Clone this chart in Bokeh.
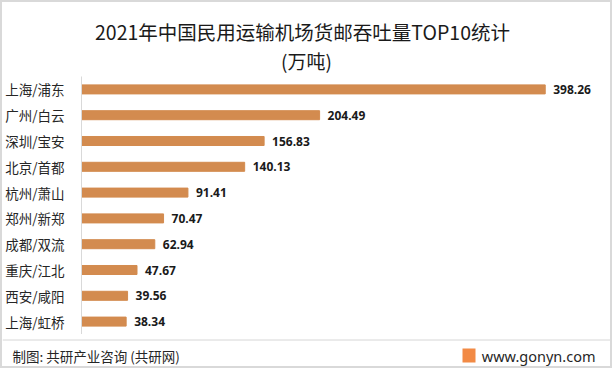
from bokeh.plotting import figure
from bokeh.layouts import column, row
from bokeh.models import (ColumnDataSource, LabelSet, Label, BoxAnnotation, Span,
                          Range1d, FactorRange)
from bokeh.core.properties import value
from bokeh.embed import file_html
from bokeh.resources import INLINE

categories = ["上海/浦东", "广州/白云", "深圳/宝安", "北京/首都", "杭州/萧山",
              "郑州/新郑", "成都/双流", "重庆/江北", "西安/咸阳", "上海/虹桥"]
values = [398.26, 204.49, 156.83, 140.13, 91.41, 70.47, 62.94, 47.67, 39.56, 38.34]
value_labels = ["398.26", "204.49", "156.83", "140.13", "91.41",
                "70.47", "62.94", "47.67", "39.56", "38.34"]

title_text = "2021年中国民用运输机场货邮吞吐量TOP10统计"
unit_text = "(万吨)"
source_text = "制图: 共研产业咨询 (共研网)"
site_text = "www.gonyn.com"

CJK = "Noto Sans CJK SC"
BAR = "#D38B4F"
W = 608
HH, MH, FH = 74, 258, 32


def blank(height):
    f = figure(width=W, height=height, output_backend="svg", toolbar_location=None,
               x_axis_location=None, y_axis_location=None,
               x_range=Range1d(0, W), y_range=Range1d(0, height),
               min_border=0, min_border_left=0, min_border_right=0,
               min_border_top=0, min_border_bottom=0)
    f.outline_line_color = None
    f.xgrid.visible = False
    f.ygrid.visible = False
    return f


def label(fig, x, y, text, size, align="center", color="#1a1a1a", font=CJK):
    fig.add_layout(Label(x=x, y=y, x_units="screen", y_units="screen", text=text,
                         text_align=align, text_baseline="middle", text_font=font,
                         text_font_size=size, text_color=color))


def box(fig, l, r, t, b, **kw):
    fig.add_layout(BoxAnnotation(left=l, right=r, top=t, bottom=b,
                                 left_units="screen", right_units="screen",
                                 top_units="screen", bottom_units="screen", **kw))


# header
head = blank(HH)
label(head, 300, 45, title_text, "19.5px")
label(head, 304, 16, unit_text, "19px")

# main chart
src = ColumnDataSource(dict(cat=categories, val=values, lab=value_labels))
p = figure(width=W, height=MH, output_backend="svg", toolbar_location=None,
           y_range=FactorRange(*categories[::-1]), x_range=Range1d(0, 452.6),
           x_axis_location=None,
           min_border_left=78, min_border_right=2, min_border_top=0, min_border_bottom=0)
p.outline_line_color = None
p.xgrid.visible = False
p.ygrid.visible = False
p.yaxis.axis_line_color = "#d9d9d9"
p.yaxis.major_tick_line_color = None
p.yaxis.minor_tick_line_color = None
p.yaxis.major_label_text_font = CJK
p.yaxis.major_label_text_font_size = "13.5px"
p.yaxis.major_label_text_color = "#262626"
p.yaxis.major_label_standoff = 11

p.hbar(y="cat", right="val", left=0, height=0.35, color=BAR, source=src)
p.add_layout(LabelSet(x="val", y="cat", text="lab", source=src, x_offset=8,
                      text_baseline="middle", text_font=value("Open Sans"),
                      text_font_style="bold", text_font_size="12px", text_color="#1a1a1a"))

# footer
foot = blank(FH)
foot.add_layout(Span(location=26.5, dimension="width", line_color="#d6d6d6", line_width=1))
label(foot, 10, 11, source_text, "13.5px", align="left", color="#262626")
label(foot, 593, 11, site_text, "14.5px", align="right", color="#262626", font="Noto Sans")
box(foot, 460, 473, 18, 4, fill_color="#F28A45", fill_alpha=1, line_color=None)

layout = column(row(head), p, row(foot), spacing=0,
                styles={"border": "2px solid #d9d9d9"})

with open("out.html", "w", encoding="utf-8") as f:
    f.write(file_html(layout, INLINE))
